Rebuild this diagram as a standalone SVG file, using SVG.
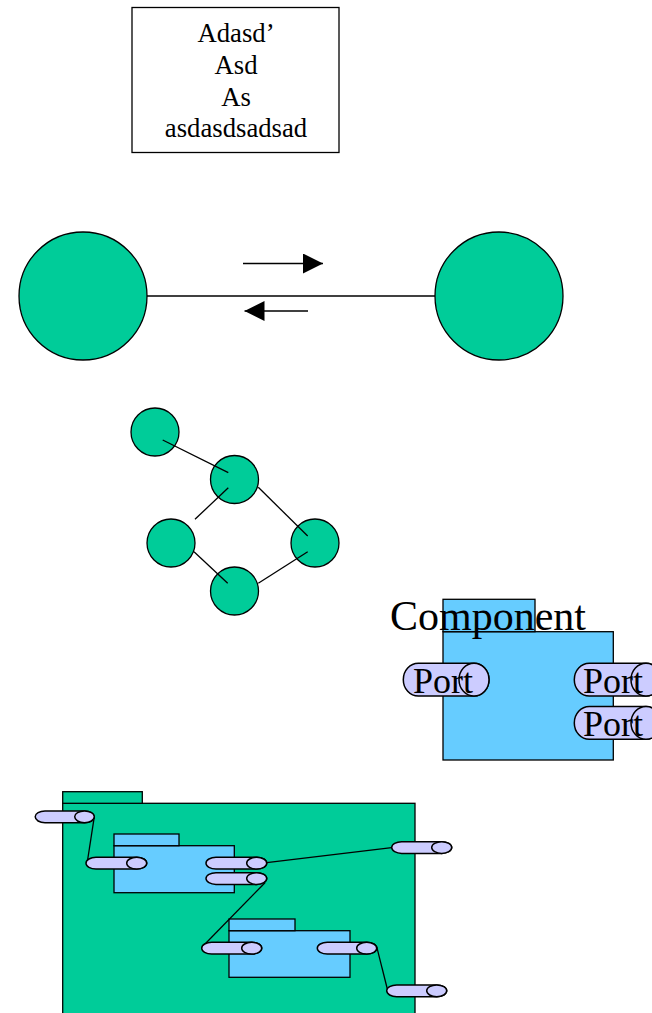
<svg xmlns="http://www.w3.org/2000/svg" width="652" height="1013" viewBox="0 0 652 1013">
<defs>
<style>
.green{fill:#00CC99;stroke:#000;stroke-width:1.3}
.blue{fill:#66CCFF;stroke:#000;stroke-width:1.3}
.port{fill:#CCCCFF;stroke:#000;stroke-width:1.5}
.ln{stroke:#000;stroke-width:1.3;fill:none}
text{font-family:"Liberation Serif","Times New Roman",serif;fill:#000}
</style>
<marker id="ah" markerUnits="userSpaceOnUse" markerWidth="20" markerHeight="20" refX="20" refY="10" orient="auto">
<path d="M0,0 L20,10 L0,20 Z" fill="#000"/>
</marker>
</defs>
<rect width="652" height="1013" fill="#fff"/>

<g id="textbox">
<rect x="132" y="7.5" width="207" height="145" fill="#fff" stroke="#000" stroke-width="1.3"/>
<text x="236" y="42" font-size="26.7" text-anchor="middle" font-family="Liberation Serif, serif">Adasd’</text>
<text x="236" y="74" font-size="26.7" text-anchor="middle" font-family="Liberation Serif, serif">Asd</text>
<text x="236" y="106" font-size="26.7" text-anchor="middle" font-family="Liberation Serif, serif">As</text>
<text x="236" y="137" font-size="26.7" text-anchor="middle" font-family="Liberation Serif, serif">asdasdsadsad</text>
</g>

<g id="connectors">
<line class="ln" x1="147" y1="296" x2="435" y2="296"/>
<line class="ln" x1="243" y1="263.5" x2="323" y2="263.5" marker-end="url(#ah)"/>
<line class="ln" x1="308" y1="311" x2="244.5" y2="311" marker-end="url(#ah)"/>
</g>

<g id="circleLeft"><circle class="green" cx="83" cy="296" r="64"/></g>
<g id="circleRight"><circle class="green" cx="499" cy="296" r="64"/></g>

<g id="graph">
<g id="g1"><circle class="green" cx="155" cy="432" r="24"/></g>
<g id="g2"><circle class="green" cx="234.5" cy="479.5" r="24"/></g>
<g id="g3"><circle class="green" cx="171" cy="543" r="24"/></g>
<g id="g4"><circle class="green" cx="315" cy="543" r="24"/></g>
<g id="g5"><circle class="green" cx="234.5" cy="591" r="24"/></g>
<g id="graphLinks">
<line class="ln" x1="162.7" y1="440" x2="228.3" y2="472.7"/>
<line class="ln" x1="228.3" y1="487.7" x2="195" y2="519.3"/>
<line class="ln" x1="258.3" y1="487.3" x2="307.7" y2="536"/>
<line class="ln" x1="194" y1="551.7" x2="227.7" y2="583.3"/>
<line class="ln" x1="258.3" y1="583.3" x2="307.7" y2="551.7"/>
</g>
</g>

<g id="component">
<rect class="blue" x="443" y="631.7" width="170.3" height="128.3"/>
<rect class="blue" x="443" y="599.3" width="92" height="32.4"/>
<text x="390" y="630" font-size="42">Component</text>
<g id="portL">
<path class="port" d="M418.3,663.3 H474 A15,16.4 0 0 1 474,696.1 H418.3 A15,16.4 0 0 1 418.3,663.3 Z"/>
<ellipse class="port" cx="474" cy="679.7" rx="15" ry="16.4"/>
<text x="413" y="693" font-size="36">Port</text>
</g>
<g id="portR1">
<path class="port" d="M589.3,663.3 H646 A15,16.4 0 0 1 646,696.1 H589.3 A15,16.4 0 0 1 589.3,663.3 Z"/>
<ellipse class="port" cx="646" cy="679.7" rx="15" ry="16.4"/>
<text x="583" y="693" font-size="36">Port</text>
</g>
<g id="portR2">
<path class="port" d="M589.3,706.5 H646 A15,16.4 0 0 1 646,739.3 H589.3 A15,16.4 0 0 1 589.3,706.5 Z"/>
<ellipse class="port" cx="646" cy="722.9" rx="15" ry="16.4"/>
<text x="583" y="736" font-size="36">Port</text>
</g>
</g>

<g id="outer">
<rect class="green" x="62.7" y="803.3" width="352.3" height="220"/>
<rect class="green" x="62.7" y="791.7" width="79.6" height="11.6"/>
</g>
<g id="inner1">
<rect class="blue" x="114" y="845.7" width="120.3" height="47"/>
<rect class="blue" x="114" y="834" width="65" height="11.7"/>
</g>
<g id="inner2">
<rect class="blue" x="229" y="930.7" width="121" height="46.6"/>
<rect class="blue" x="229" y="919" width="66" height="11.7"/>
</g>

<g id="bottomConnectors">
<line class="ln" x1="94.3" y1="816.7" x2="87.3" y2="862"/>
<line class="ln" x1="266.7" y1="862.7" x2="391.7" y2="847.7"/>
<line class="ln" x1="265" y1="882.7" x2="203.3" y2="945.7"/>
<line class="ln" x1="376.7" y1="946.7" x2="387.3" y2="989"/>
</g>

<g id="portA">
<path class="port" d="M45,811 H84.5 A9.8,5.85 0 0 1 84.5,822.7 H45 A9.8,5.85 0 0 1 45,811 Z"/>
<ellipse class="port" cx="84.5" cy="816.85" rx="9.8" ry="5.85"/>
</g>
<g id="portB">
<path class="port" d="M96,857.3 H136.7 A10,5.85 0 0 1 136.7,869 H96 A10,5.85 0 0 1 96,857.3 Z"/>
<ellipse class="port" cx="136.7" cy="863.15" rx="10" ry="5.85"/>
</g>
<g id="portC">
<path class="port" d="M216,857.3 H256.7 A10,5.85 0 0 1 256.7,869 H216 A10,5.85 0 0 1 216,857.3 Z"/>
<ellipse class="port" cx="256.7" cy="863.15" rx="10" ry="5.85"/>
</g>
<g id="portD">
<path class="port" d="M216,872.7 H256.7 A10,5.85 0 0 1 256.7,884.4 H216 A10,5.85 0 0 1 216,872.7 Z"/>
<ellipse class="port" cx="256.7" cy="878.55" rx="10" ry="5.85"/>
</g>
<g id="portE">
<path class="port" d="M401.7,841.7 H441.7 A10,5.85 0 0 1 441.7,853.4 H401.7 A10,5.85 0 0 1 401.7,841.7 Z"/>
<ellipse class="port" cx="441.7" cy="847.55" rx="10" ry="5.85"/>
</g>
<g id="portF">
<path class="port" d="M211.7,942.3 H251.7 A10,5.85 0 0 1 251.7,954 H211.7 A10,5.85 0 0 1 211.7,942.3 Z"/>
<ellipse class="port" cx="251.7" cy="948.15" rx="10" ry="5.85"/>
</g>
<g id="portG">
<path class="port" d="M327.3,942.3 H366.7 A10,5.85 0 0 1 366.7,954 H327.3 A10,5.85 0 0 1 327.3,942.3 Z"/>
<ellipse class="port" cx="366.7" cy="948.15" rx="10" ry="5.85"/>
</g>
<g id="portH">
<path class="port" d="M396.7,985 H436.7 A10,5.85 0 0 1 436.7,996.7 H396.7 A10,5.85 0 0 1 396.7,985 Z"/>
<ellipse class="port" cx="436.7" cy="990.85" rx="10" ry="5.85"/>
</g>
</svg>
